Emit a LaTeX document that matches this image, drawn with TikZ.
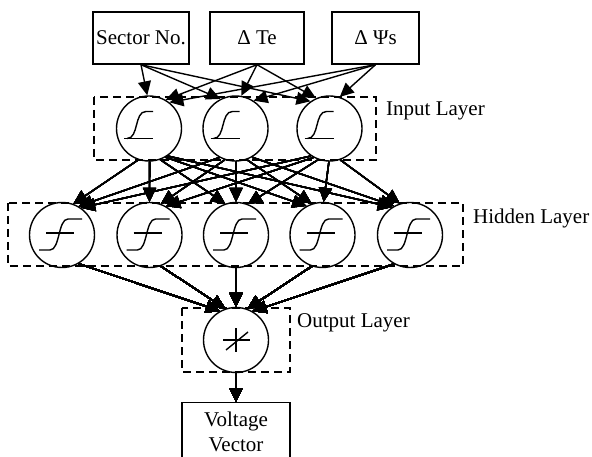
\documentclass[tikz,border=0pt]{standalone}
\usepackage{fontspec}
\setmainfont{Liberation Serif}
\usetikzlibrary{arrows.meta}
\tikzset{
  inbox/.style    = {rectangle, draw, line width=1.4pt, minimum height=52pt, inner sep=2pt},
  neuron/.style   = {circle, draw, line width=1.4pt, minimum size=65pt, inner sep=0pt},
  layerbox/.style = {draw, line width=1.4pt, dash pattern=on 8pt off 5pt},
  conn/.style     = {-{Triangle[length=14pt, width=13pt]}, line width=1.4pt},
  laylab/.style   = {anchor=west, inner sep=0pt},
  % transfer functions drawn inside the neurons (y runs downwards)
  pics/sigin/.style  = {code={
      \draw[line width=1.4pt] (-25,10) -- (4,10);
      \draw[line width=1.4pt] (-22,10) .. controls (-10,10) and (-15,-17) .. (-3,-17) -- (4,-17);
  }},
  pics/sighid/.style = {code={
      \draw[line width=1.4pt] (-16,-2) -- (12,-2);
      \draw[line width=1.4pt] (-23,15) -- (-12,15) .. controls (-2,15) and (-4,-16) .. (6,-16) -- (20,-16);
  }},
  pics/linout/.style = {code={
      \draw[line width=1.4pt] (-13,0) -- (14,0);
      \draw[line width=1.4pt] (0,-12) -- (0,12);
      \draw[line width=1.4pt] (-10,10) -- (12,-8);
  }},
}
% arrow from node #1 (at x=#2) down to node #3 (at x=#4), #5 = vertical gap of centres;
% leaves the lower side of #1 and lands on the upper side of #3
\newcommand{\link}[5]{%
  \pgfmathsetmacro\ldir{atan2(#5,#2-#4)}%
  \pgfmathsetmacro\lend{45+0.5*\ldir}%
  \pgfmathsetmacro\lsta{-135+0.5*\ldir}%
  \draw[conn] (#1.\lsta) -- (#3.\lend);}
% same, but starting from the middle of a box bottom
\newcommand{\feed}[5]{%
  \pgfmathsetmacro\ldir{atan2(#5,#2-#4)}%
  \pgfmathsetmacro\lend{45+0.5*\ldir}%
  \draw[conn] (#1.south) -- (#3.\lend);}

\begin{document}
\begin{tikzpicture}[x=1pt, y=-1pt, font=\fontsize{21}{25}\selectfont]
  \useasboundingbox (0,0) rectangle (592,457);
  % inputs
  \node[inbox, minimum width=96pt] (sec) at (141,38) {Sector No.};
  \node[inbox, minimum width=94pt] (dte) at (257,38) {Δ Te};
  \node[inbox, minimum width=87pt] (dps) at (375.5,38) {Δ Ψs};
  % input layer
  \draw[layerbox] (94,97) rectangle (376,160);
  \node[neuron] (i1) at (149,128.5) {};
  \node[neuron] (i2) at (235.5,128.5) {};
  \node[neuron] (i3) at (329.5,128.5) {};
  \foreach \n in {i1,i2,i3} \pic at (\n) {sigin};
  \node[laylab] (linp) at (386,111) {Input Layer};
  % hidden layer
  \draw[layerbox] (8,203) rectangle (463,266);
  \node[neuron] (h1) at (62,235) {};
  \node[neuron] (h2) at (149.5,235) {};
  \node[neuron] (h3) at (236,235) {};
  \node[neuron] (h4) at (322.5,235) {};
  \node[neuron] (h5) at (410,235) {};
  \foreach \n in {h1,h2,h3,h4,h5} \pic at (\n) {sighid};
  \node[laylab] (lhid) at (473,218) {Hidden Layer};
  % output layer
  \draw[layerbox] (182,308) rectangle (290,372);
  \node[neuron] (o) at (236,340) {};
  \pic at (o) {linout};
  \node[laylab] (lout) at (297,323) {Output Layer};
  \node[inbox, minimum width=108pt, minimum height=58pt, anchor=north, align=center]
    (volt) at (236,402) {Voltage\\Vector};
  % connections
  \foreach \b/\xb in {sec/141,dte/257,dps/375.5}
    \foreach \n/\xn in {i1/149,i2/235.5,i3/329.5}
      \feed{\b}{\xb}{\n}{\xn}{64.5}
  \foreach \a/\xa in {i1/149,i2/235.5,i3/329.5}
    \foreach \n/\xn in {h1/62,h2/149.5,h3/236,h4/322.5,h5/410}
      \link{\a}{\xa}{\n}{\xn}{106.5}
  \foreach \a/\xa in {h1/62,h2/149.5,h3/236,h4/322.5,h5/410}
    \link{\a}{\xa}{o}{236}{105}
  \draw[conn] (o) -- (volt);
\end{tikzpicture}
\end{document}
